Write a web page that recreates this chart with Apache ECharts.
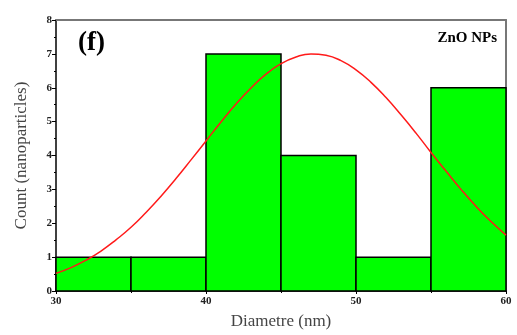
<!DOCTYPE html>
<html><head><meta charset="utf-8">
<script src="https://cdn.jsdelivr.net/npm/echarts@6/dist/echarts.min.js"></script>
<style>html,body{margin:0;padding:0;background:#fff}#c{width:517px;height:335px}</style>
</head><body><div id="c"></div>
<script>
var binStart = [30, 35, 40, 45, 50, 55];
var binEnd = [35, 40, 45, 50, 55, 60];
var counts = [1, 1, 7, 4, 1, 6];
var fitX = [30,31,32,33,34,35,36,37,38,39,40,41,42,43,44,45,46,47,48,49,50,51,52,53,54,55,56,57,58,59,60];
var fitY = [0.52,0.69,0.91,1.18,1.51,1.88,2.32,2.80,3.32,3.87,4.43,4.99,5.52,5.99,6.40,6.71,6.91,7.00,6.96,6.80,6.53,6.16,5.71,5.20,4.66,4.09,3.54,3.00,2.50,2.05,1.65];
var xTicks = [30, 40, 50, 60];
var yTicks = [0,1,2,3,4,5,6,7,8];

var barData = binStart.map(function(s,i){return [s, binEnd[i], counts[i]];});
var lineData = fitX.map(function(x,i){return [x, fitY[i]];});
var font = '"Liberation Serif", "Times New Roman", serif';

var chart = echarts.init(document.getElementById('c'));
chart.setOption({
  animation: false,
  grid: {left: 56, right: 11, top: 20, bottom: 43},
  xAxis: [{
    type: 'value', min: 30, max: 60, interval: 10,
    axisLine: {show: true, onZero: false, lineStyle: {color: '#000', width: 1.5}},
    axisTick: {show: true, length: 3, lineStyle: {color: '#000'}},
    minorTick: {show: true, splitNumber: 2, length: 2, lineStyle: {color: '#000'}},
    splitLine: {show: false},
    axisLabel: {fontFamily: font, fontWeight: 'bold', fontSize: 11, color: '#222', margin: 5},
    name: 'Diametre (nm)', nameLocation: 'middle', nameGap: 22,
    nameTextStyle: {fontFamily: font, fontSize: 17, color: '#444'}
  }, {
    type: 'value', min: 30, max: 60, position: 'top',
    axisLine: {show: true, onZero: false, lineStyle: {color: '#777', width: 2}},
    axisTick: {show: false}, axisLabel: {show: false}, splitLine: {show: false}
  }],
  yAxis: [{
    type: 'value', min: 0, max: 8, interval: 1,
    axisLine: {show: true, onZero: false, lineStyle: {color: '#000', width: 1.5}},
    axisTick: {show: true, length: 4, lineStyle: {color: '#000'}},
    minorTick: {show: true, splitNumber: 2, length: 2, lineStyle: {color: '#000'}},
    splitLine: {show: false},
    axisLabel: {fontFamily: font, fontWeight: 'bold', fontSize: 11, color: '#222', margin: 4},
    name: 'Count (nanoparticles)', nameLocation: 'middle', nameGap: 26,
    nameTextStyle: {fontFamily: font, fontSize: 17, color: '#444'}
  }, {
    type: 'value', min: 0, max: 8, position: 'right',
    axisLine: {show: true, onZero: false, lineStyle: {color: '#777', width: 2}},
    axisTick: {show: false}, axisLabel: {show: false}, splitLine: {show: false}
  }],
  series: [{
    type: 'custom',
    data: barData,
    renderItem: function(params, api){
      var p0 = api.coord([api.value(0), 0]);
      var p1 = api.coord([api.value(1), api.value(2)]);
      return {type: 'rect', shape: {x: p0[0], y: p1[1], width: p1[0]-p0[0], height: p0[1]-p1[1]},
        style: {fill: '#00ff00', stroke: '#000', lineWidth: 1.5}};
    },
    encode: {x: [0,1], y: 2},
    z: 2
  }, {
    type: 'line', data: lineData, smooth: true, showSymbol: false,
    lineStyle: {color: '#ff1a1a', width: 1.5}, z: 3
  }],
  graphic: [
    {type: 'text', left: 78, top: 30, style: {text: '(f)', font: 'bold 27px ' + font, fill: '#000'}},
    {type: 'text', right: 20, top: 31, style: {text: 'ZnO NPs', font: 'bold 15px ' + font, fill: '#000'}}
  ]
});
</script></body></html>
